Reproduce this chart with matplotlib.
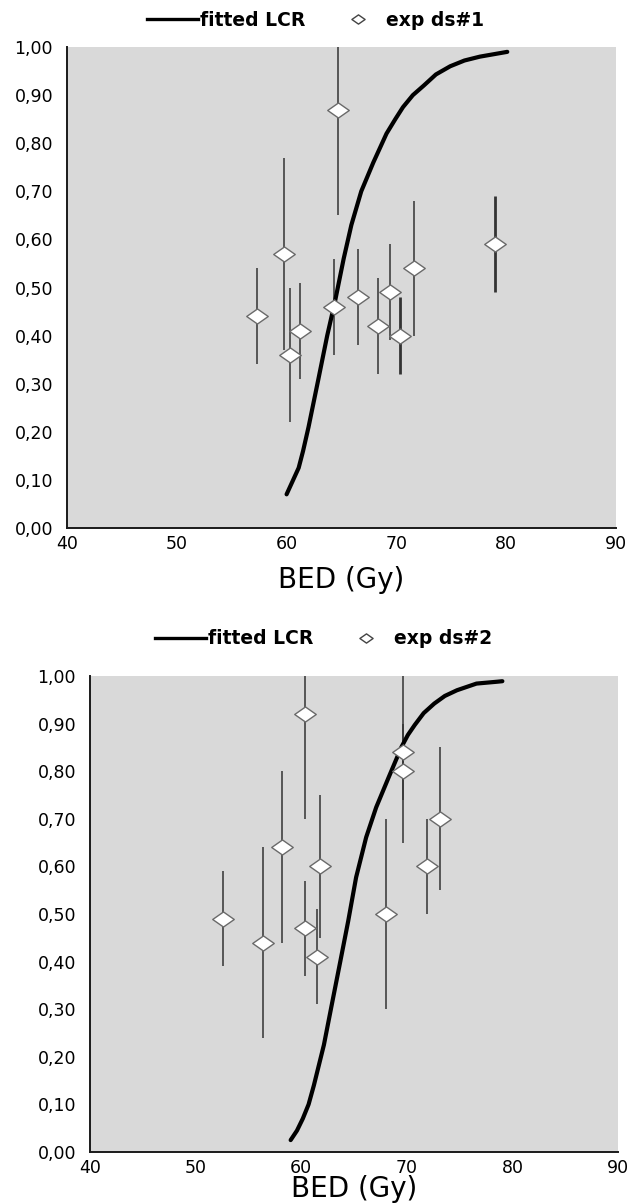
import matplotlib
matplotlib.use("Agg")
import matplotlib.pyplot as plt
from matplotlib.path import Path
from matplotlib.lines import Line2D

# ---------------- data ----------------
x_ticks = [40, 50, 60, 70, 80, 90]
y_ticks = [0.0, 0.1, 0.2, 0.3, 0.4, 0.5, 0.6, 0.7, 0.8, 0.9, 1.0]
y_tick_labels = ["0,00", "0,10", "0,20", "0,30", "0,40", "0,50",
                 "0,60", "0,70", "0,80", "0,90", "1,00"]
x_label = "BED (Gy)"
fit_label = "fitted LCR"
ds1_label = "exp ds#1"
ds2_label = "exp ds#2"

# panel 1 experimental data set
ds1_bed = [57.3, 59.8, 60.3, 61.2, 64.3, 64.7, 66.5, 68.3, 69.4, 70.3, 71.6, 79.0]
ds1_lcr = [0.44, 0.57, 0.36, 0.41, 0.46, 0.87, 0.48, 0.42, 0.49, 0.40, 0.54, 0.59]
ds1_low = [0.34, 0.37, 0.22, 0.31, 0.36, 0.65, 0.38, 0.32, 0.39, 0.32, 0.40, 0.49]
ds1_high = [0.54, 0.77, 0.50, 0.51, 0.56, 1.00, 0.58, 0.52, 0.59, 0.48, 0.68, 0.69]

# panel 1 fitted curve
fit1_bed = [60.0, 60.5, 61.1, 61.5, 62.0, 62.9, 63.7, 64.4, 65.2, 65.9, 66.8,
            67.9, 69.1, 69.9, 70.6, 71.5, 72.5, 73.6, 74.9, 76.2, 77.6, 80.1]
fit1_lcr = [0.07, 0.095, 0.125, 0.16, 0.21, 0.31, 0.40, 0.47, 0.56, 0.63, 0.70,
            0.76, 0.82, 0.85, 0.875, 0.90, 0.92, 0.943, 0.96, 0.972, 0.98, 0.99]

# panel 2 experimental data set
ds2_bed = [52.6, 56.4, 58.15, 60.4, 60.4, 61.5, 61.8, 68.0, 69.6, 69.6, 71.9, 73.1]
ds2_lcr = [0.49, 0.44, 0.64, 0.92, 0.47, 0.41, 0.60, 0.50, 0.84, 0.80, 0.60, 0.70]
ds2_low = [0.39, 0.24, 0.44, 0.70, 0.37, 0.31, 0.45, 0.30, 0.74, 0.65, 0.50, 0.55]
ds2_high = [0.59, 0.64, 0.80, 1.00, 0.57, 0.51, 0.75, 0.70, 1.00, 0.90, 0.70, 0.85]

# panel 2 fitted curve
fit2_bed = [59.0, 59.6, 60.15, 60.7, 61.2, 62.15, 62.9, 63.7, 64.45, 65.2, 66.15,
            67.1, 68.3, 69.5, 70.1, 70.75, 71.6, 72.6, 73.6, 74.75, 76.6, 78.6, 79.05]
fit2_lcr = [0.025, 0.045, 0.07, 0.10, 0.14, 0.225, 0.31, 0.40, 0.485, 0.577, 0.661,
            0.724, 0.788, 0.851, 0.876, 0.897, 0.922, 0.942, 0.958, 0.970, 0.984,
            0.988, 0.989]

# ---------------- styles ----------------
ds1_bar_lw = [1.1, 1.1, 1.1, 1.1, 1.1, 1.1, 1.1, 1.1, 1.1, 2.0, 1.1, 2.0]
ds2_bar_lw = [1.1] * len(ds2_bed)

BG = "#d9d9d9"
BAR_C = "#333333"
EDGE_C = "#6a6a6a"
wide_diamond = Path([(-1, 0), (0, 0.70), (1, 0), (0, -0.70), (-1, 0)],
                    [Path.MOVETO, Path.LINETO, Path.LINETO, Path.LINETO, Path.CLOSEPOLY])

plt.rcParams["font.family"] = ["DejaVu Sans"]

fig = plt.figure(figsize=(6.29, 12.03), dpi=100)
ax1 = fig.add_axes([0.1065, 0.5611, 0.8728, 0.3998])
ax2 = fig.add_axes([0.1431, 0.0424, 0.8394, 0.3957])


def draw_panel(ax, bed, lcr, low, high, bar_lw, fbed, flcr, ds_label,
               leg_x, leg_y, label_y):
    ax.set_facecolor(BG)
    ax.vlines(bed, low, high, colors=BAR_C, linewidths=bar_lw, zorder=2)
    ax.plot(fbed, flcr, color="black", lw=3.0, solid_capstyle="round",
            solid_joinstyle="round", zorder=3)
    ax.plot(bed, lcr, ls="none", marker=wide_diamond, ms=15.5, mfc="white",
            mec=EDGE_C, mew=1.0, zorder=4)
    ax.set_xlim(40, 90)
    ax.set_ylim(0, 1)
    ax.set_xticks(x_ticks)
    ax.set_xticklabels([str(v) for v in x_ticks])
    ax.set_yticks(y_ticks)
    ax.set_yticklabels(y_tick_labels)
    ax.tick_params(axis="both", length=0, labelsize=12.5, colors="black")
    ax.tick_params(axis="x", pad=5)
    ax.tick_params(axis="y", pad=10)
    for s in ("top", "right"):
        ax.spines[s].set_visible(False)
    for s in ("left", "bottom"):
        ax.spines[s].set_color("#1a1a1a")
        ax.spines[s].set_linewidth(1.4)
    ax.set_xlabel(x_label, fontsize=20)
    ax.xaxis.set_label_coords(0.5, label_y)

    h_line = Line2D([], [], color="black", lw=2.4)
    h_mark = Line2D([], [], ls="none", marker=wide_diamond, ms=9.5, mfc="white",
                    mec="#444444", mew=1.0)
    ax.legend([h_line, h_mark], [fit_label, ds_label], loc="center left",
              bbox_to_anchor=(leg_x, leg_y), ncol=2, frameon=False,
              prop={"family": "DejaVu Sans", "weight": "bold", "size": 13.5},
              handlelength=2.7, handletextpad=0.15, columnspacing=1.45,
              borderaxespad=0, borderpad=0)


draw_panel(ax1, ds1_bed, ds1_lcr, ds1_low, ds1_high, ds1_bar_lw,
           fit1_bed, fit1_lcr, ds1_label, 0.1457, 1.056, -0.078)
draw_panel(ax2, ds2_bed, ds2_lcr, ds2_low, ds2_high, ds2_bar_lw,
           fit2_bed, fit2_lcr, ds2_label, 0.123, 1.078, -0.048)

fig.savefig("out.png", dpi=100, facecolor="white")
